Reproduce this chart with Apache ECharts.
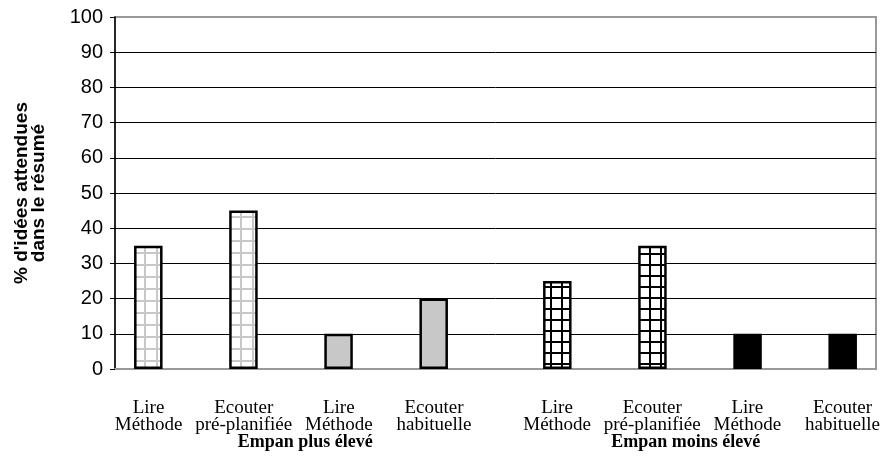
<!DOCTYPE html>
<html>
<head>
<meta charset="utf-8">
<script src="https://cdn.jsdelivr.net/npm/echarts@6/dist/echarts.min.js"></script>
<style>
html,body{margin:0;padding:0;background:#fff;}
#chart{width:886px;height:466px;}
</style>
</head>
<body>
<div id="chart"></div>
<script>
// ---- data ----
const topLabels = ['Lire', 'Ecouter', 'Lire', 'Ecouter', 'Lire', 'Ecouter', 'Lire', 'Ecouter'];
const bottomLabels = ['Méthode', 'pré-planifiée', 'Méthode', 'habituelle', 'Méthode', 'pré-planifiée', 'Méthode', 'habituelle'];
const groupLabels = ['Empan plus élevé', 'Empan moins élevé'];
const groupOfCategory = [0, 0, 0, 0, 1, 1, 1, 1];
const empanPlusValues = [35, 45, 10, 20, null, null, null, null];
const empanMoinsValues = [null, null, null, null, 25, 35, 10, 10];
const yTicks = [0, 10, 20, 30, 40, 50, 60, 70, 80, 90, 100];
const yAxisTitle = "% d'idées attendues\ndans le résumé";

// ---- fills ----
function gridPattern(bg, line, cell, lw) {
  const c = document.createElement('canvas');
  c.width = cell; c.height = cell;
  const g = c.getContext('2d');
  g.fillStyle = bg; g.fillRect(0, 0, cell, cell);
  g.fillStyle = line;
  g.fillRect(0, 0, lw, cell);
  g.fillRect(0, 0, cell, lw);
  return { image: c, repeat: 'repeat' };
}
const greyGrid = gridPattern('#ffffff', '#c8c8c8', 12, 2);
const blackGrid = gridPattern('#ffffff', '#000000', 11, 2);
const fills = [greyGrid, greyGrid, '#c8c8c8', '#c8c8c8', blackGrid, blackGrid, '#000000', '#000000'];

const categories = topLabels.map((t, i) => t + '\n' + bottomLabels[i]);

function mk(values) {
  return values.map((v, i) => v == null ? '-' : {
    value: v,
    itemStyle: { color: fills[i], borderColor: '#000', borderWidth: 2.5 }
  });
}

const chart = echarts.init(document.getElementById('chart'));
chart.setOption({
  animation: false,
  backgroundColor: '#fff',
  grid: { left: 115, right: 10, top: 17, bottom: 97, show: true, borderColor: '#999', borderWidth: 2, backgroundColor: 'transparent' },
  xAxis: [{
    type: 'category',
    data: categories,
    axisLine: { lineStyle: { color: '#999', width: 2 } },
    axisTick: { show: false },
    axisLabel: {
      interval: 0,
      margin: 31,
      formatter: function (v, i) {
        const s = groupOfCategory[i] === 0 ? 'a' : 'b';
        return '{' + s + '|' + topLabels[i] + '}\n{' + s + '|' + bottomLabels[i] + '}';
      },
      rich: {
        a: { fontFamily: 'Liberation Serif', fontSize: 19, color: '#000', lineHeight: 17, padding: [0, 28, 0, 0] },
        b: { fontFamily: 'Liberation Serif', fontSize: 19, color: '#000', lineHeight: 17, padding: [0, 0, 0, 28] }
      }
    }
  }, {
    type: 'category',
    position: 'bottom',
    data: groupLabels,
    axisLine: { show: false },
    axisTick: { show: false },
    splitLine: { show: false },
    axisLabel: { margin: 64, fontFamily: 'Liberation Serif', fontWeight: 'bold', fontSize: 18, color: '#000' }
  }],
  yAxis: {
    type: 'value',
    min: 0, max: 100, interval: 10,
    name: yAxisTitle,
    nameLocation: 'middle',
    nameRotate: 90,
    nameGap: 68,
    nameTextStyle: { fontFamily: 'Liberation Sans', fontWeight: 'bold', fontSize: 19, color: '#000', lineHeight: 17 },
    axisLine: { show: true, lineStyle: { color: '#000', width: 1.5 } },
    axisTick: { show: true, length: 5, lineStyle: { color: '#000' } },
    axisLabel: { margin: 12, fontFamily: 'Liberation Sans', fontSize: 20, color: '#000',
      formatter: v => yTicks.includes(v) ? String(v) : '' },
    splitLine: { lineStyle: { color: ['#000', '#000', '#000', '#000', '#000', '#000', '#000', '#000', '#000', '#000', '#999'], width: 1 } }
  },
  series: [{
    type: 'bar', name: groupLabels[0], data: mk(empanPlusValues),
    barWidth: 28.5, barGap: '0%'
  }, {
    type: 'bar', name: groupLabels[1], data: mk(empanMoinsValues),
    barWidth: 28.5, barGap: '0%'
  }]
});
</script>
</body>
</html>
